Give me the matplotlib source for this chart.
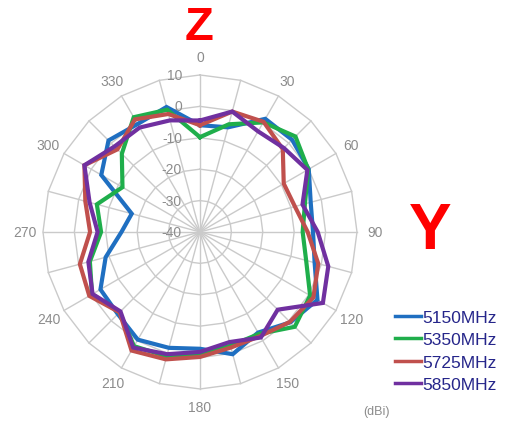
import numpy as np
import matplotlib
matplotlib.use("Agg")
import matplotlib.pyplot as plt
from matplotlib.transforms import offset_copy

plt.rcParams['font.family'] = ['Liberation Sans', 'DejaVu Sans']

# angles every 15 deg, clockwise from top
angles_deg = list(range(0, 360, 15))

# gain readings (dBi)
gain_5150 = [-6, -5.5, 1.6, 1.5, 0, -3.5, -4, -2.2, 3.2, 0.7, -3, 0.3,
             -2.8, -1.8, -0.4, -3, -3.4, -8.9, -15, -17.5, -3.7, 1.2, -0.3, 1.2]
gain_5350 = [-9.8, -4.5, 0.3, 3, -0.2, -5.4, -7.3, -5, 0.5, 2.7, -2.5, -2.5,
             -1.2, 1, 2, -3.8, -0.3, -3.7, -8.5, -6, -11.5, -4.8, 2.2, 0.3]
gain_5725 = [-6, -0.3, 0.5, -2.7, -9.2, -8.7, -5.7, -1, 1.7, 0.5, -1.7, -1.9,
             -0.2, 2, 3.6, -3.8, 0.7, -0.4, -5, -2.2, 2.5, -2.8, 1.4, -1.1]
gain_5850 = [-4.5, -0.3, -3, -2.2, -0.5, -6.2, -2.5, 2.3, 5.2, -5, -1.2, -3.7,
             -1.8, 0.3, 2.5, -4.2, -0.5, -3.2, -7.4, -3.6, 2.5, -1.5, -1.6, -3.2]

series_names = ['5150MHz', '5350MHz', '5725MHz', '5850MHz']
series_colors = ['#1f6fc1', '#1fae4b', '#c0504d', '#7030a0']

ring_values = [-40, -30, -20, -10, 0, 10]
angle_labels = list(range(0, 360, 30))

fig = plt.figure(figsize=(5.05, 4.27), dpi=100)
ax = fig.add_axes([0.0851, 0.0867, 0.6218, 0.7354], projection='polar')
ax.set_theta_zero_location('N')
ax.set_theta_direction(-1)
ax.set_ylim(-40, 10)
ax.grid(False)
ax.set_xticks([])
ax.set_yticks([])
ax.spines['polar'].set_visible(False)
ax.patch.set_visible(False)

th = np.deg2rad(angles_deg + [360])
grid_col = '#cacaca'
# polygon rings
for r in ring_values[1:]:
    ax.plot(th, [r] * len(th), color=grid_col, lw=1.0, zorder=1, clip_on=False)
# spokes
for a in angles_deg:
    ax.plot([np.deg2rad(a)] * 2, [-40, 10], color=grid_col, lw=1.0, zorder=1, clip_on=False)

# data
all_series = [gain_5150, gain_5350, gain_5725, gain_5850]
for vals, name, col in zip(all_series, series_names, series_colors):
    ax.plot(th, vals + vals[:1], color=col, lw=3.0, label=name, zorder=3,
            solid_joinstyle='miter', clip_on=False)

# angle labels
for a in angle_labels:
    ax.text(np.deg2rad(a), 15.7, str(a), ha='center', va='center',
            fontsize=10, color='#8c8c8c', clip_on=False)

# radial labels, left of the 0 spoke
tr = offset_copy(ax.transData, fig=fig, x=-18, y=0, units='dots')
for r in ring_values:
    ax.text(0, r, str(r), transform=tr, ha='right', va='center',
            fontsize=10, color='#8c8c8c', clip_on=False, zorder=2)

# axis letters
fig.text(0.394, 0.935, 'Z', color='#ff0000', fontsize=34, fontweight='bold',
         ha='center', va='center')
fig.text(0.851, 0.457, 'Y', color='#ff0000', fontsize=46, fontweight='bold',
         ha='center', va='center')
fig.text(0.745, 0.035, '(dBi)', color='#8c8c8c', fontsize=9, ha='center', va='center')

leg = fig.legend(loc='upper left', bbox_to_anchor=(0.782, 0.272), frameon=False,
                 handlelength=1.5, handletextpad=0.05, labelspacing=0.42,
                 fontsize=12.5, borderaxespad=0, borderpad=0)
for t in leg.get_texts():
    t.set_color('#25258a')
for h in leg.get_lines():
    h.set_linewidth(2.5)

fig.savefig('out.png', dpi=100)
